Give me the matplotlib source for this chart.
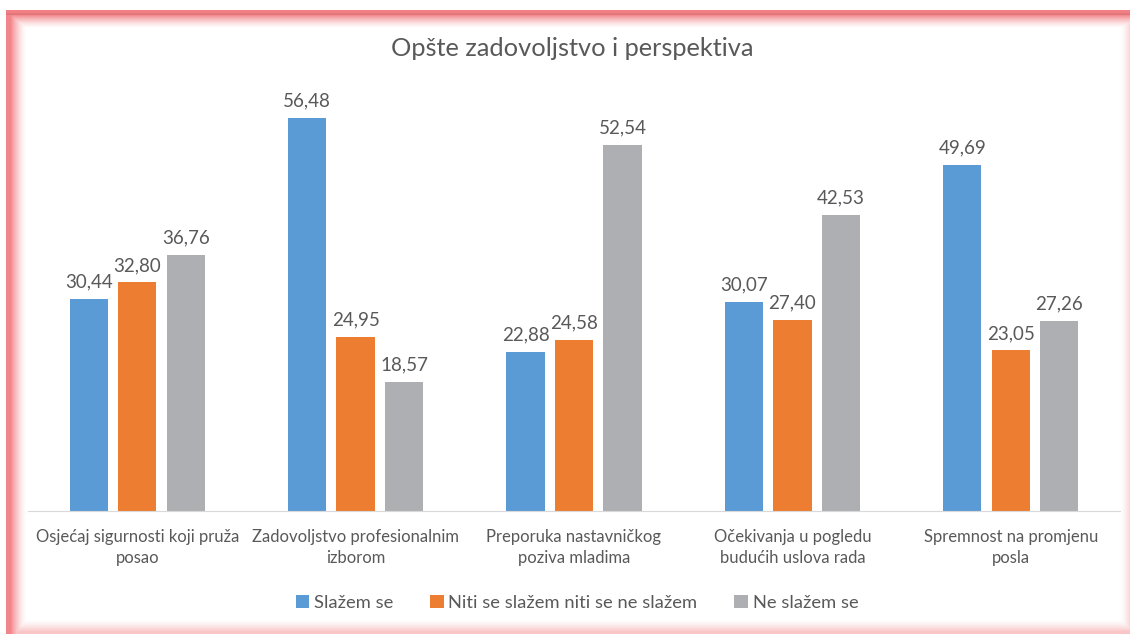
import numpy as np
import matplotlib.pyplot as plt

categories = ["Osjećaj sigurnosti koji pruža\nposao",
              "Zadovoljstvo profesionalnim\nizborom",
              "Preporuka nastavničkog\npoziva mladima",
              "Očekivanja u pogledu\nbudućih uslova rada",
              "Spremnost na promjenu\nposla"]
series_names = ["Slažem se", "Niti se slažem niti se ne slažem", "Ne slažem se"]
slazem = [30.44, 56.48, 22.88, 30.07, 49.69]
niti = [32.80, 24.95, 24.58, 27.40, 23.05]
ne_slazem = [36.76, 18.57, 52.54, 42.53, 27.26]
colors = ["#5B9BD5", "#ED7D31", "#AEAFB3"]
text_color = "#595959"

plt.rcParams['font.family'] = ['Lato', 'DejaVu Sans']

W, H = 1130, 635
fig = plt.figure(figsize=(W / 100, H / 100), dpi=100)

# reddish glowing frame drawn as a background image
yy, xx = np.mgrid[0:H, 0:W]
left, right, top, bottom = 6, 1130, 10, 634
red = np.array([0.95, 0.50, 0.52])
inside = (xx >= left) & (xx < right) & (yy >= top) & (yy < bottom)
glow = np.zeros((H, W))
edges = [(yy - top, 1.0, 4, 14), (xx - left, 0.95, 4, 16),
         (right - 1 - xx, 0.3, 0, 9), (bottom - 1 - yy, 0.45, 2, 12)]
for d, strength, solid, fade in edges:
    g = np.where(d < solid, 1.0, np.clip(1 - (d - solid) / fade, 0, 1) ** 1.5) * strength
    glow = np.maximum(glow, g)
glow[~inside] = 0
bg = np.ones((H, W, 3)) * (1 - glow[..., None]) + red * glow[..., None]
# darker thin line along the top
bg[13:15, left:right] = bg[13:15, left:right] * 0.93
bgax = fig.add_axes([0, 0, 1, 1], zorder=-10)
bgax.imshow(bg, aspect='auto', interpolation='nearest')
bgax.axis('off')

ax = fig.add_axes([28 / W, 1 - 511 / H, (1120 - 28) / W, (511 - 93) / H])
x = np.arange(len(categories))
bw = 0.175
step = 0.222
for i, (vals, name) in enumerate(zip([slazem, niti, ne_slazem], series_names)):
    bars = ax.bar(x + (i - 1) * step, vals, bw, color=colors[i], label=name)
    ax.bar_label(bars, labels=[f"{v:.2f}".replace('.', ',') for v in vals],
                 padding=6, fontsize=13.5, color=text_color)

ax.set_xlim(-0.5, 4.5)
ax.set_ylim(0, 60)
ax.set_xticks(x)
ax.set_xticklabels(categories, fontsize=12, color=text_color, linespacing=1.4)
ax.tick_params(axis='x', length=0, pad=13)
ax.set_yticks([])
for s in ['top', 'right', 'left']:
    ax.spines[s].set_visible(False)
ax.spines['bottom'].set_color("#D9D9D9")
ax.patch.set_alpha(0)

fig.text(572 / W, 1 - 48 / H, "Opšte zadovoljstvo i perspektiva",
         ha='center', va='center', fontsize=18.3, color=text_color)
fig.legend(loc='center', bbox_to_anchor=(577 / W, 1 - 603 / H), ncol=3,
           frameon=False, fontsize=13.2, labelcolor=text_color,
           handlelength=0.75, handleheight=0.75, handletextpad=0.25, columnspacing=2.0)

fig.savefig("out.png", dpi=100)
